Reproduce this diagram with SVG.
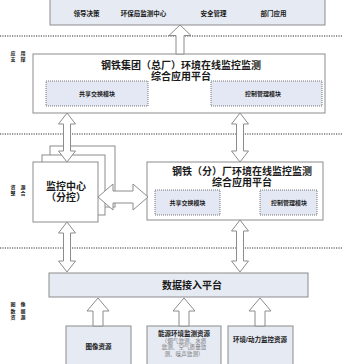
<svg xmlns="http://www.w3.org/2000/svg" width="342" height="364" viewBox="0 0 342 364">
<style>
text{font-family:"Liberation Sans","Noto Sans CJK SC",sans-serif;font-weight:bold;fill:#1a1a1a;text-anchor:middle;dominant-baseline:central}
.box{fill:#fff;stroke:#8c8c8c;stroke-width:1}
.fill{fill:#e6eaf3;stroke:#8c8c8c;stroke-width:1}
.sub{fill:#e4e8f4;stroke:#555;stroke-width:0.8;stroke-dasharray:1 1}
.arr{fill:#fff;stroke:#8c8c8c;stroke-width:1;stroke-linejoin:miter}
.sep{stroke:#333;stroke-width:1;stroke-dasharray:1.2 1.2;fill:none}
.t10{font-size:10px}
.t7{font-size:6.5px}
.t6{font-size:6px}
.lab{font-size:5px}
.gray{font-size:5.6px;font-weight:normal;fill:#777}
</style>
<g id="separators">
<line class="sep" x1="0" y1="36" x2="342" y2="36"/>
<line class="sep" x1="0" y1="134" x2="342" y2="134"/>
<line class="sep" x1="0" y1="248" x2="342" y2="248"/>
</g>
<g id="layer-labels">
<text class="lab" x="13" y="53">应</text><text class="lab" x="23" y="53">用</text>
<text class="lab" x="13" y="59">支</text><text class="lab" x="23" y="59">撑</text>
<text class="lab" x="13" y="187">资</text><text class="lab" x="23" y="187">源</text>
<text class="lab" x="13" y="193">整</text><text class="lab" x="23" y="193">合</text>
<text class="lab" x="13" y="304">图</text><text class="lab" x="23" y="304">像</text>
<text class="lab" x="13" y="310.5">数</text><text class="lab" x="23" y="310.5">据</text>
<text class="lab" x="13" y="317">资</text><text class="lab" x="23" y="317">源</text>
</g>
<g id="apps">
<rect class="fill" x="50" y="-1" width="275" height="26"/>
<text class="t7" x="86.5" y="13">领导决策</text>
<text class="t7" x="143.5" y="13">环保局监测中心</text>
<text class="t7" x="213.5" y="13">安全管理</text>
<text class="t7" x="273.5" y="13">部门应用</text>
</g>
<g id="group-platform">
<rect class="box" x="33" y="54" width="292" height="59"/>
<text class="t10" x="181" y="65">钢铁集团（总厂）环境在线监控监测</text>
<text class="t10" x="181" y="76.5">综合应用平台</text>
<g id="group-share">
<rect class="sub" x="46" y="81" width="102" height="25"/>
<text class="t6" x="97" y="93.5">共享交换模块</text>
</g>
<g id="group-control">
<rect class="sub" x="211" y="81" width="111" height="25"/>
<text class="t6" x="263" y="93.5">控制管理模块</text>
</g>
</g>
<g id="monitor-center">
<rect class="box" x="50" y="146" width="65" height="61"/>
<rect class="box" x="42" y="155" width="63" height="60"/>
<rect class="box" x="33" y="162" width="65" height="60"/>
<text class="t10" x="66" y="186">监控中心</text>
<text class="t10" x="66" y="197.5">（分控）</text>
</g>
<g id="branch-platform">
<rect class="box" x="147" y="162" width="176" height="58"/>
<text class="t10" x="242" y="171.5">钢铁（分）厂环境在线监控监测</text>
<text class="t10" x="242" y="182.5">综合应用平台</text>
<g id="branch-share">
<rect class="sub" x="155" y="190" width="65" height="25"/>
<text class="t6" x="187.5" y="202.5">共享交换模块</text>
</g>
<g id="branch-control">
<rect class="sub" x="260" y="190" width="57" height="25"/>
<text class="t6" x="289" y="202.5">控制管理模块</text>
</g>
</g>
<g id="data-access">
<rect class="fill" x="49" y="273" width="259" height="24"/>
<text class="t10" x="192" y="285">数据接入平台</text>
</g>
<g id="res-image">
<rect class="fill" x="66" y="326" width="65" height="40"/>
<text class="t7" x="98.5" y="346">图像资源</text>
</g>
<g id="res-energy">
<rect class="fill" x="147" y="326" width="74" height="40"/>
<text class="t7" x="184" y="333.5">能源环境监测资源</text>
<text class="gray" x="184" y="340.7">（烟气监测、水质</text>
<text class="gray" x="184" y="347.2">监测、空气质量监</text>
<text class="gray" x="184" y="353.7">测、噪声监测）</text>
</g>
<g id="res-power">
<rect class="fill" x="228" y="326" width="65" height="40"/>
<text class="t7" x="260" y="339">环境/动力监控资源</text>
</g>
<g id="connectors">
<polygon class="arr" points="180,25 191,35.5 184,35.5 184,54 176,54 176,35.5 169,35.5"/>
<polygon class="arr" points="67,113 75.5,124 70.5,124 70.5,151 75.5,151 67,162 58.5,151 63.5,151 63.5,124 58.5,124"/>
<polygon class="arr" points="240,113 248.5,124 243.5,124 243.5,151 248.5,151 240,162 231.5,151 236.5,151 236.5,124 231.5,124"/>
<polygon class="arr" points="98,197 113,184 113,191 133,191 133,184 148,197 133,210 133,203 113,203 113,210"/>
<polygon class="arr" points="67,222 75.5,233 70.5,233 70.5,261 75.5,261 67,272 58.5,261 63.5,261 63.5,233 58.5,233"/>
<polygon class="arr" points="240,220 248.5,231 243.5,231 243.5,261 248.5,261 240,272 231.5,261 236.5,261 236.5,231 231.5,231"/>
<polygon class="arr" points="98,298 109,311 103,311 103,326 93,326 93,311 87,311"/>
<polygon class="arr" points="184,298 195,311 189,311 189,326 179,326 179,311 173,311"/>
<polygon class="arr" points="260,298 271,311 265,311 265,326 255,326 255,311 249,311"/>
</g>
</svg>
